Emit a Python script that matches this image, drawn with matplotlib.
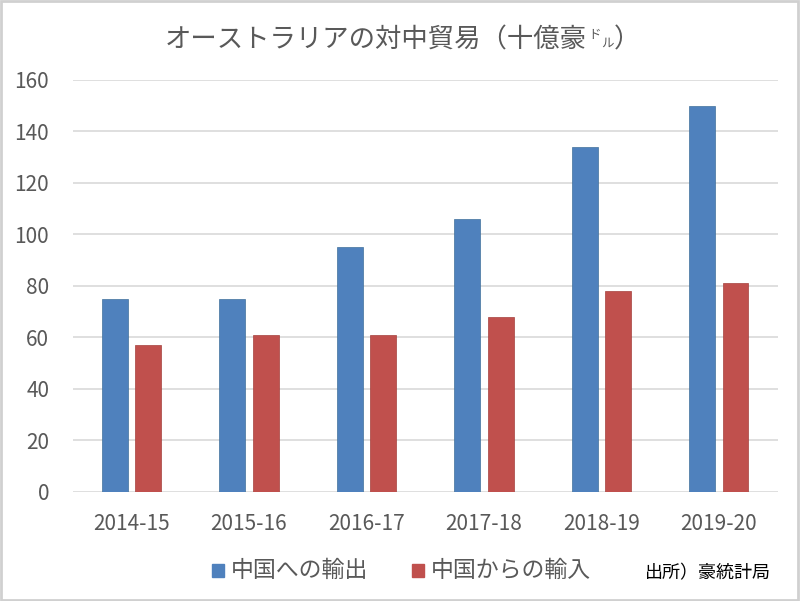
import numpy as np
import matplotlib.pyplot as plt
from matplotlib.patches import Rectangle

plt.rcParams['font.family'] = ['Noto Sans CJK JP', 'DejaVu Sans']

years = ['2014-15', '2015-16', '2016-17', '2017-18', '2018-19', '2019-20']
exports = [75, 75, 95, 106, 134, 150]   # 中国への輸出
imports = [57, 61, 61, 68, 78, 81]      # 中国からの輸入

blue = '#4F81BD'
red = '#C0504D'
grey_txt = '#595959'

fig = plt.figure(figsize=(8, 6.01), dpi=100)
ax = fig.add_axes([0.091, 0.1814, 0.881, 0.6855])

x = np.arange(len(years))
w = 0.22
ax.bar(x - 0.142, exports, w, color=blue, edgecolor='#41719C', linewidth=0.5, zorder=3)
ax.bar(x + 0.142, imports, w, color=red, edgecolor='#A5403D', linewidth=0.5, zorder=3)

ax.set_xlim(-0.5, len(years) - 0.5)
ax.set_ylim(0, 160)
ax.set_yticks(np.arange(0, 161, 20))
ax.set_xticks(x)
ax.set_xticklabels(years)
ax.yaxis.grid(True, color='#D9D9D9', linewidth=1.2, zorder=0)
ax.tick_params(length=0, labelsize=15, colors=grey_txt)
ax.tick_params(axis='x', pad=15)
ax.tick_params(axis='y', pad=17)
for s in ax.spines.values():
    s.set_visible(False)

# title, with small ドル
fig.canvas.draw()
r = fig.canvas.get_renderer()
t1 = fig.text(165 / 800, 1 - 47 / 601, 'オーストラリアの対中貿易（十億豪',
              fontsize=19, color=grey_txt, va='baseline')
bb = t1.get_window_extent(r)
t2 = fig.text(bb.x1 / 800 + 0.002, 1 - 38 / 601, 'ド', fontsize=9, color=grey_txt, va='baseline')
bb2 = t2.get_window_extent(r)
t3 = fig.text(bb2.x1 / 800, 1 - 47 / 601, 'ル', fontsize=9, color=grey_txt, va='baseline')
bb3 = t3.get_window_extent(r)
fig.text(bb3.x1 / 800, 1 - 47 / 601, '）', fontsize=19, color=grey_txt, va='baseline')

# legend
ly = 1 - 570 / 601
sq = 12
fig.patches.append(Rectangle((212 / 800, ly - 7 / 601), sq / 800, 13 / 601,
                             transform=fig.transFigure, color=blue))
fig.text(231 / 800, ly, '中国への輸出', fontsize=16.5, color=grey_txt, va='center')
fig.patches.append(Rectangle((412 / 800, ly - 7 / 601), sq / 800, 13 / 601,
                             transform=fig.transFigure, color=red))
fig.text(431 / 800, ly, '中国からの輸入', fontsize=16.5, color=grey_txt, va='center')
fig.text(645 / 800, 1 - 573 / 601, '出所）豪統計局', fontsize=13, color='black', va='center')

# outer border
fig.patches.append(Rectangle((0.001, 0.002), 0.997, 0.996, transform=fig.transFigure,
                             fill=False, edgecolor='#D0D0D0', linewidth=2))

fig.savefig('out.png', dpi=100)
